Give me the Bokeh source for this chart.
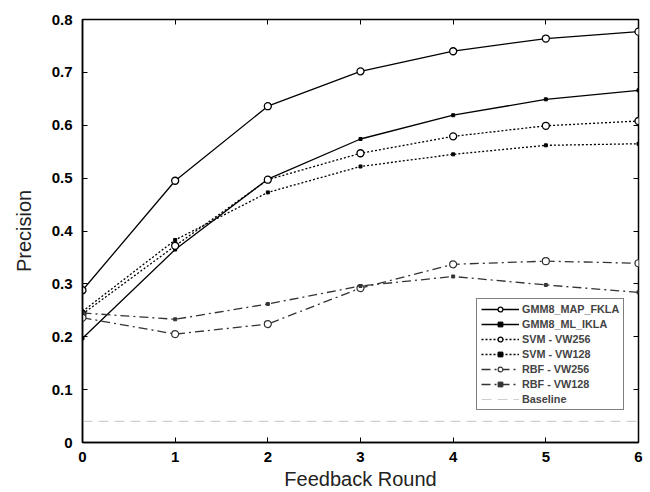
from bokeh.plotting import figure
from bokeh.models import Range1d, LinearAxis, FixedTicker, Legend, CustomLabelingPolicy
from bokeh.embed import file_html
from bokeh.resources import INLINE

rounds = [0, 1, 2, 3, 4, 5, 6]
gmm_map_fkla = [0.288, 0.495, 0.636, 0.702, 0.740, 0.764, 0.777]
gmm_ml_ikla = [0.197, 0.365, 0.498, 0.574, 0.619, 0.649, 0.666]
svm_vw256 = [0.243, 0.372, 0.497, 0.547, 0.579, 0.599, 0.608]
svm_vw128 = [0.248, 0.383, 0.473, 0.522, 0.545, 0.562, 0.565]
rbf_vw256 = [0.236, 0.205, 0.224, 0.292, 0.337, 0.343, 0.339]
rbf_vw128 = [0.245, 0.233, 0.262, 0.296, 0.314, 0.298, 0.284]
baseline = [0.04, 0.04, 0.04, 0.04, 0.04, 0.04, 0.04]

x_ticks = [0, 1, 2, 3, 4, 5, 6]
y_ticks = [0, 0.1, 0.2, 0.3, 0.4, 0.5, 0.6, 0.7, 0.8]

p = figure(width=650, height=492, output_backend="svg", toolbar_location=None,
           x_range=Range1d(0, 6), y_range=Range1d(0, 0.8),
           min_border_left=82, min_border_right=12, min_border_top=19, min_border_bottom=50)
p.xgrid.visible = False
p.ygrid.visible = False
p.outline_line_color = "black"
p.outline_line_width = 1.5
p.background_fill_color = "white"
p.border_fill_color = "white"

font = "Liberation Sans"
for ax in p.xaxis + p.yaxis:
    ax.major_label_text_font = font
    ax.major_label_text_font_style = "bold"
    ax.major_label_text_font_size = "15px"
    ax.major_label_text_color = "black"
    ax.axis_label_text_font = font
    ax.axis_label_text_font_style = "normal"
    ax.axis_label_text_font_size = "20px"
    ax.axis_label_text_color = "#222222"
    ax.major_tick_in = 5
    ax.major_tick_out = 0
    ax.minor_tick_line_color = None
    ax.axis_line_color = "black"
    ax.axis_line_width = 1.5
    ax.major_tick_line_color = "black"

p.xaxis.ticker = FixedTicker(ticks=x_ticks)
p.yaxis.ticker = FixedTicker(ticks=y_ticks)
p.yaxis.major_label_overrides = {0: "0", 0.1: "0.1", 0.2: "0.2", 0.3: "0.3", 0.4: "0.4",
                                 0.5: "0.5", 0.6: "0.6", 0.7: "0.7", 0.8: "0.8"}
p.xaxis.axis_label = "Feedback Round"
p.yaxis.axis_label = "Precision"
p.xaxis.major_label_standoff = 9
p.yaxis.major_label_standoff = 10
p.xaxis.axis_label_standoff = 3
p.yaxis.axis_label_standoff = 14

hide_code = "for (const i of indices) { indices.unset(i) }\nreturn indices"
top = LinearAxis(ticker=FixedTicker(ticks=x_ticks), major_tick_in=5, major_tick_out=0,
                 major_label_policy=CustomLabelingPolicy(code=hide_code),
                 major_label_text_font_size="1px", axis_line_color=None,
                 minor_tick_line_color=None, major_label_standoff=0)
right = LinearAxis(ticker=FixedTicker(ticks=y_ticks), major_tick_in=5, major_tick_out=0,
                   major_label_policy=CustomLabelingPolicy(code=hide_code),
                   major_label_text_font_size="1px", axis_line_color=None,
                   minor_tick_line_color=None, major_label_standoff=0)
p.add_layout(top, "above")
p.add_layout(right, "right")

lw = 1.3
items = []

r1 = p.line(rounds, gmm_map_fkla, line_color="black", line_width=lw)
m1 = p.scatter(rounds, gmm_map_fkla, marker="circle", size=7, fill_color="white",
               line_color="black", line_width=1.3)
items.append(("GMM8_MAP_FKLA", [r1, m1]))

r2 = p.line(rounds, gmm_ml_ikla, line_color="black", line_width=lw)
m2 = p.scatter(rounds, gmm_ml_ikla, marker="square", size=3, fill_color="black", line_color="black")
items.append(("GMM8_ML_IKLA", [r2, m2]))

r3 = p.line(rounds, svm_vw256, line_color="black", line_width=lw, line_dash="2 2")
m3 = p.scatter(rounds, svm_vw256, marker="circle", size=7, fill_color="white",
               line_color="black", line_width=1.3)
items.append(("SVM - VW256", [r3, m3]))

r4 = p.line(rounds, svm_vw128, line_color="black", line_width=lw, line_dash="2 2")
m4 = p.scatter(rounds, svm_vw128, marker="square", size=3, fill_color="black", line_color="black")
items.append(("SVM - VW128", [r4, m4]))

r5 = p.line(rounds, rbf_vw256, line_color="#333333", line_width=lw, line_dash="9 4 2 4")
m5 = p.scatter(rounds, rbf_vw256, marker="circle", size=7, fill_color="white",
               line_color="#333333", line_width=1.2)
items.append(("RBF - VW256", [r5, m5]))

r6 = p.line(rounds, rbf_vw128, line_color="#333333", line_width=lw, line_dash="9 4 2 4")
m6 = p.scatter(rounds, rbf_vw128, marker="square", size=3, fill_color="#333333", line_color="#333333")
items.append(("RBF - VW128", [r6, m6]))

r7 = p.line(rounds, baseline, line_color="#cfcfcf", line_width=1.2, line_dash="10 6")
items.append(("Baseline", [r7]))

legend = Legend(items=items, location=(394, 32))
legend.label_text_font = font
legend.label_text_font_style = "bold"
legend.label_text_font_size = "10.8px"
legend.label_height = 12
legend.glyph_height = 12
legend.glyph_width = 38
legend.spacing = 3
legend.padding = 4
legend.margin = 0
legend.label_standoff = 3
legend.border_line_color = "black"
legend.border_line_width = 1.5
legend.background_fill_alpha = 1.0
p.add_layout(legend, "center")

open("out.html", "w").write(file_html(p, INLINE))
